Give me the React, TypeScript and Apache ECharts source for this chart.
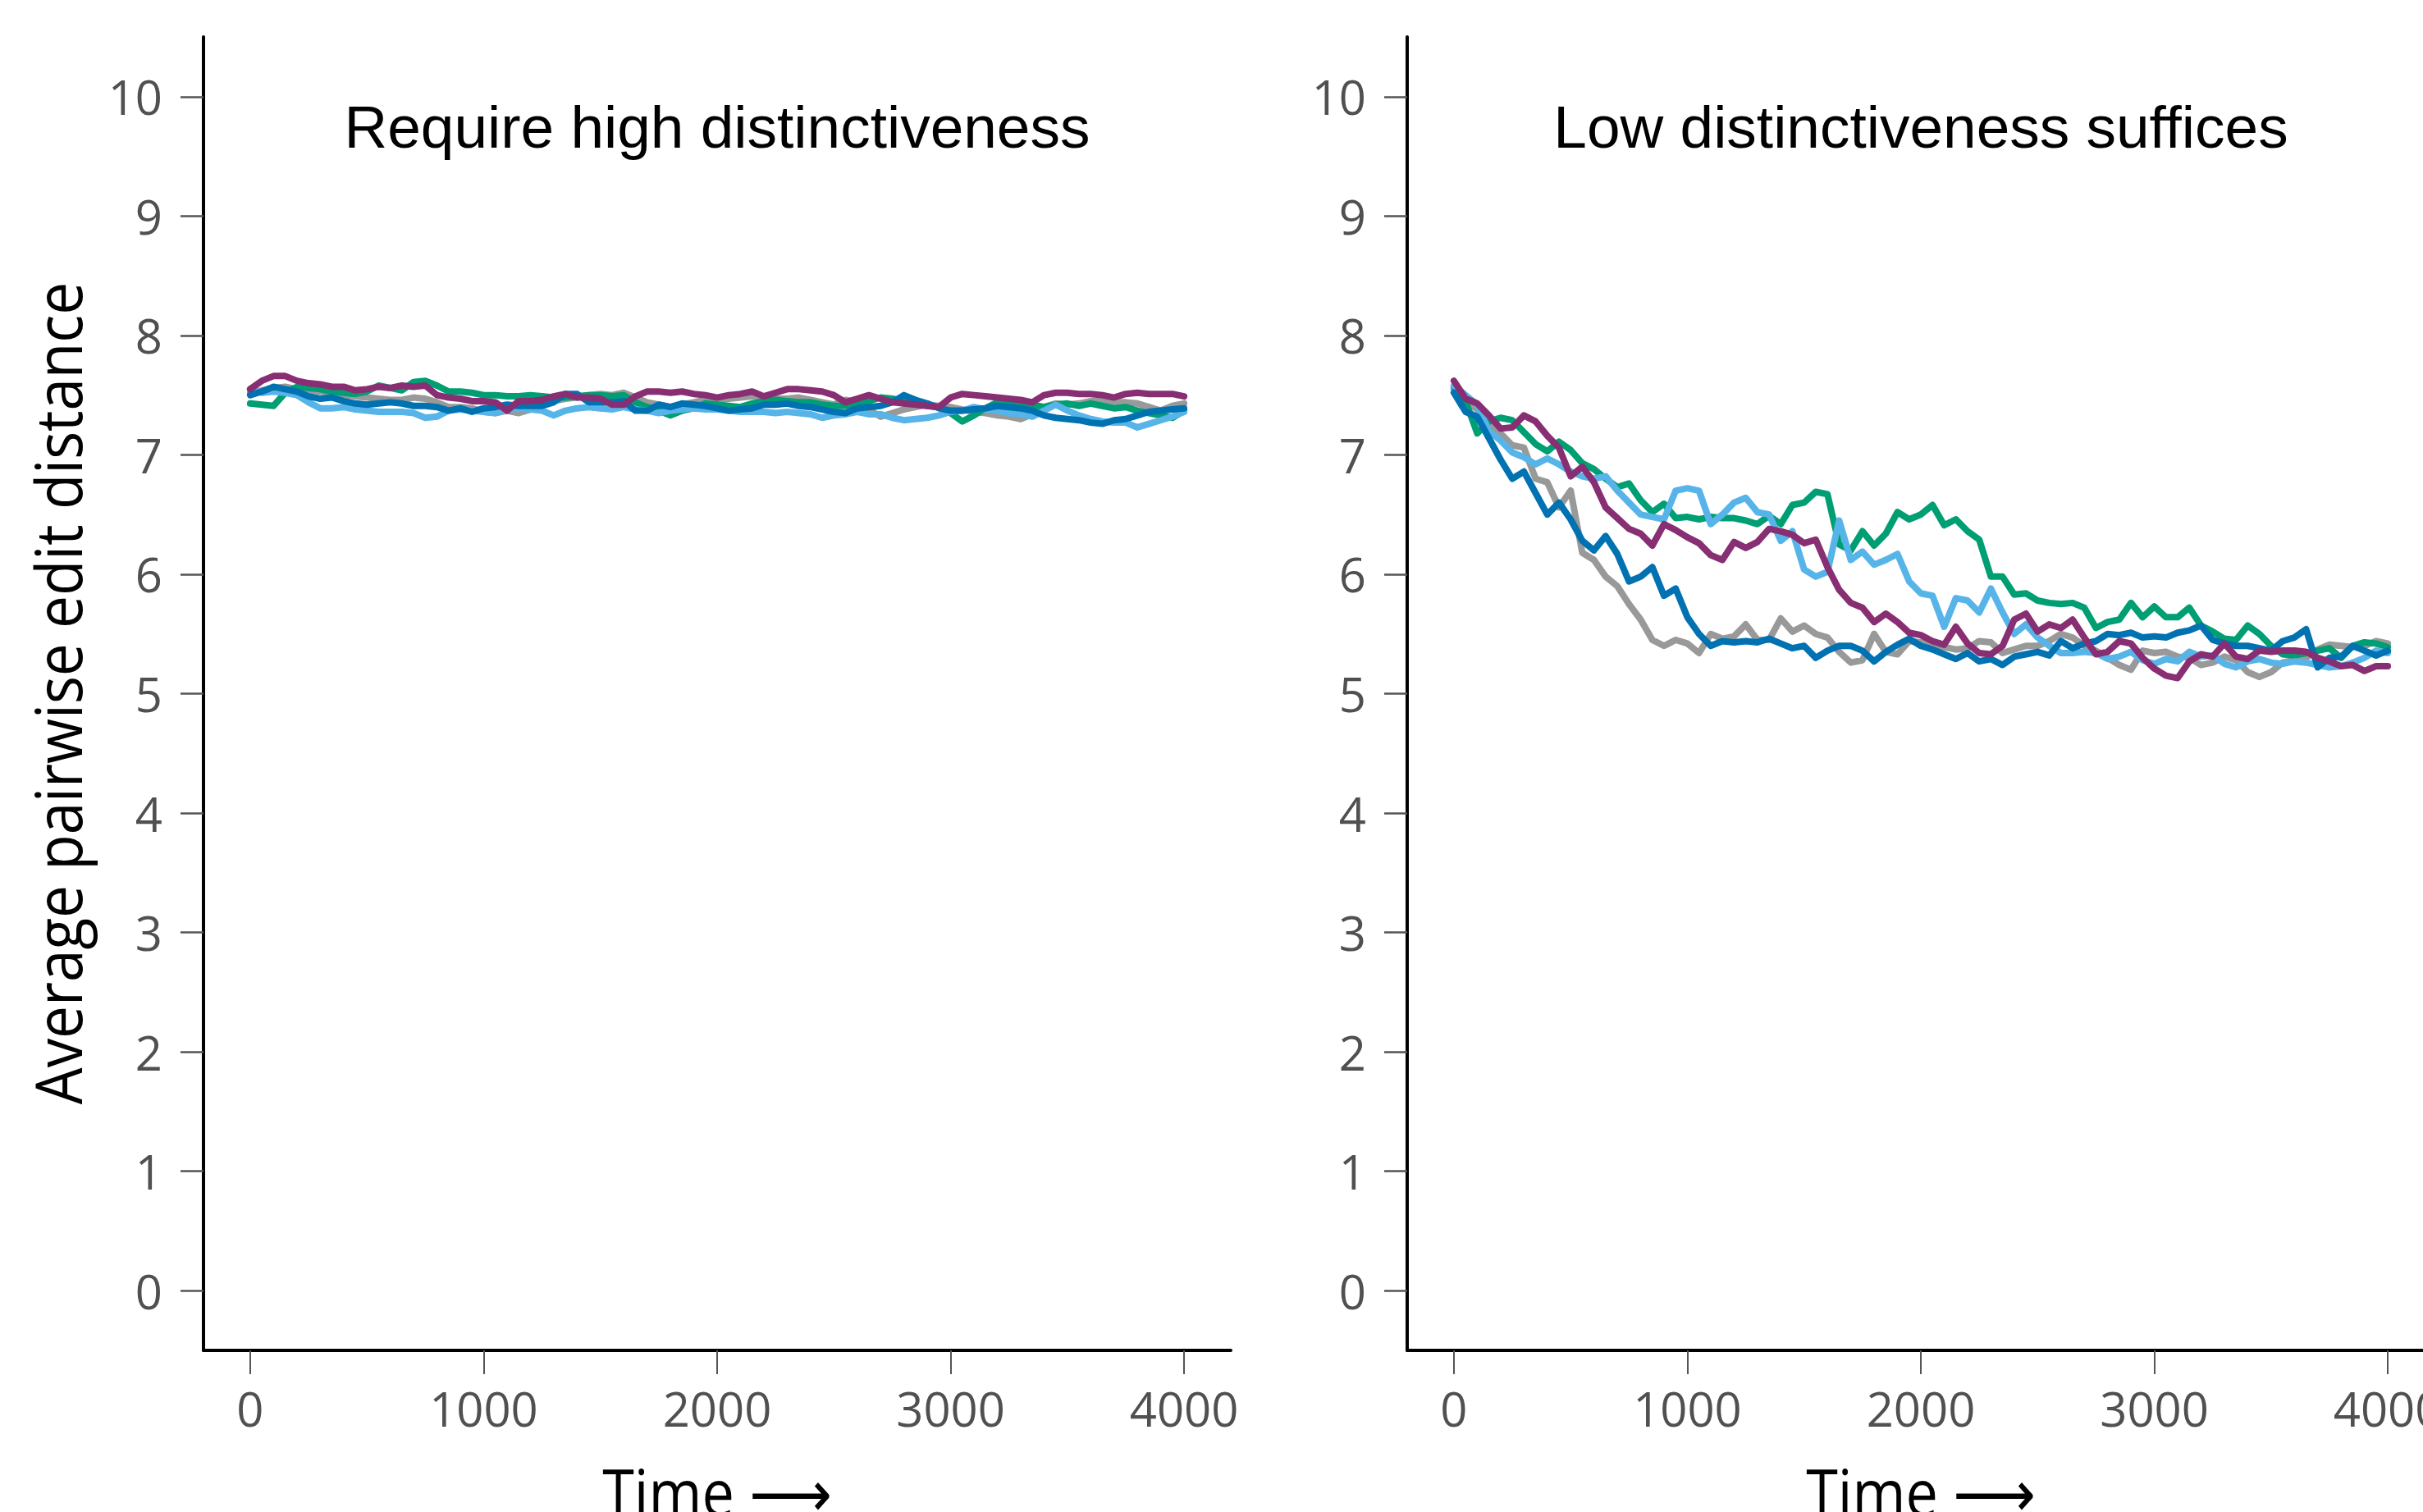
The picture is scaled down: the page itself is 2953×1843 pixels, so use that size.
import React, { useEffect, useRef } from "react";
import * as echarts from "echarts";

// Time steps (x values) shared by every series
const TIMES = [
  0, 50, 100, 150, 200, 250, 300, 350, 400, 450,
  500, 550, 600, 650, 700, 750, 800, 850, 900, 950,
  1000, 1050, 1100, 1150, 1200, 1250, 1300, 1350, 1400, 1450,
  1500, 1550, 1600, 1650, 1700, 1750, 1800, 1850, 1900, 1950,
  2000, 2050, 2100, 2150, 2200, 2250, 2300, 2350, 2400, 2450,
  2500, 2550, 2600, 2650, 2700, 2750, 2800, 2850, 2900, 2950,
  3000, 3050, 3100, 3150, 3200, 3250, 3300, 3350, 3400, 3450,
  3500, 3550, 3600, 3650, 3700, 3750, 3800, 3850, 3900, 3950,
  4000,
];

const X_TICKS = [0, 1000, 2000, 3000, 4000];
const Y_TICKS = [0, 1, 2, 3, 4, 5, 6, 7, 8, 9, 10];

const TITLE_LEFT = "Require high distinctiveness";
const TITLE_RIGHT = "Low distinctiveness suffices";
const Y_NAME = "Average pairwise edit distance";
const X_NAME = "Time \u27F6";

// ---- Left panel: "Require high distinctiveness" ----
const L_GRAY = [
  7.52, 7.54, 7.56, 7.57, 7.55, 7.54, 7.53, 7.52, 7.50, 7.49,
  7.48, 7.47, 7.46, 7.46, 7.48, 7.47, 7.44, 7.40, 7.40, 7.39,
  7.36, 7.35, 7.37, 7.35, 7.38, 7.42, 7.45, 7.47, 7.48, 7.50,
  7.51, 7.50, 7.52, 7.48, 7.44, 7.42, 7.40, 7.42, 7.44, 7.46,
  7.46, 7.47, 7.48, 7.49, 7.48, 7.47, 7.47, 7.48, 7.46, 7.44,
  7.42, 7.46, 7.44, 7.38, 7.32, 7.35, 7.38, 7.40, 7.42, 7.41,
  7.40, 7.38, 7.36, 7.35, 7.33, 7.32, 7.30, 7.34, 7.40, 7.43,
  7.42, 7.43, 7.45, 7.46, 7.44, 7.44, 7.43, 7.40, 7.37, 7.41,
  7.43,
];
const L_GREEN = [
  7.43, 7.42, 7.41, 7.52, 7.57, 7.56, 7.55, 7.53, 7.52, 7.51,
  7.53, 7.58, 7.56, 7.54, 7.61, 7.62, 7.58, 7.53, 7.53, 7.52,
  7.50, 7.50, 7.49, 7.49, 7.50, 7.49, 7.48, 7.48, 7.49, 7.50,
  7.50, 7.49, 7.50, 7.44, 7.40, 7.37, 7.33, 7.37, 7.39, 7.43,
  7.42, 7.41, 7.40, 7.43, 7.45, 7.46, 7.45, 7.44, 7.44, 7.42,
  7.41, 7.41, 7.43, 7.45, 7.48, 7.47, 7.45, 7.43, 7.41, 7.40,
  7.35, 7.28, 7.33, 7.39, 7.44, 7.45, 7.44, 7.42, 7.40, 7.42,
  7.43, 7.41, 7.43, 7.41, 7.39, 7.40, 7.37, 7.35, 7.33, 7.31,
  7.37,
];
const L_SKY = [
  7.55, 7.52, 7.53, 7.52, 7.50, 7.44, 7.39, 7.39, 7.40, 7.38,
  7.37, 7.36, 7.36, 7.36, 7.35, 7.31, 7.32, 7.37, 7.38, 7.37,
  7.36, 7.35, 7.38, 7.39, 7.38, 7.37, 7.33, 7.37, 7.39, 7.40,
  7.39, 7.38, 7.40, 7.38, 7.37, 7.35, 7.37, 7.38, 7.39, 7.38,
  7.38, 7.37, 7.36, 7.36, 7.36, 7.35, 7.36, 7.35, 7.34, 7.31,
  7.33, 7.34, 7.36, 7.34, 7.34, 7.31, 7.29, 7.30, 7.31, 7.33,
  7.36, 7.37, 7.40, 7.38, 7.37, 7.35, 7.34, 7.32, 7.37, 7.42,
  7.37, 7.33, 7.30, 7.28, 7.27, 7.27, 7.23, 7.26, 7.29, 7.32,
  7.36,
];
const L_BLUE = [
  7.50, 7.53, 7.57, 7.55, 7.53, 7.49, 7.47, 7.48, 7.45, 7.43,
  7.42, 7.43, 7.44, 7.43, 7.41, 7.41, 7.40, 7.37, 7.39, 7.36,
  7.39, 7.40, 7.42, 7.41, 7.41, 7.41, 7.44, 7.51, 7.51, 7.44,
  7.44, 7.44, 7.45, 7.37, 7.37, 7.42, 7.40, 7.43, 7.42, 7.41,
  7.39, 7.37, 7.38, 7.39, 7.42, 7.42, 7.43, 7.41, 7.40, 7.38,
  7.36, 7.35, 7.39, 7.40, 7.41, 7.44, 7.50, 7.46, 7.43, 7.39,
  7.37, 7.37, 7.38, 7.39, 7.41, 7.40, 7.39, 7.37, 7.33, 7.31,
  7.30, 7.29, 7.27, 7.26, 7.29, 7.30, 7.33, 7.36, 7.37, 7.38,
  7.39,
];
const L_PURPLE = [
  7.55, 7.62, 7.66, 7.66, 7.62, 7.60, 7.59, 7.57, 7.57, 7.54,
  7.55, 7.57, 7.56, 7.58, 7.57, 7.58, 7.50, 7.48, 7.47, 7.45,
  7.45, 7.44, 7.37, 7.45, 7.45, 7.46, 7.49, 7.51, 7.48, 7.48,
  7.47, 7.42, 7.42, 7.49, 7.53, 7.53, 7.52, 7.53, 7.51, 7.50,
  7.48, 7.50, 7.51, 7.53, 7.49, 7.52, 7.55, 7.55, 7.54, 7.53,
  7.50, 7.44, 7.47, 7.50, 7.47, 7.44, 7.43, 7.42, 7.41, 7.40,
  7.48, 7.51, 7.50, 7.49, 7.48, 7.47, 7.46, 7.44, 7.50, 7.52,
  7.52, 7.51, 7.51, 7.50, 7.48, 7.51, 7.52, 7.51, 7.51, 7.51,
  7.49,
];

// ---- Right panel: "Low distinctiveness suffices" ----
const R_GRAY = [
  7.55, 7.45, 7.38, 7.25, 7.18, 7.08, 7.06, 6.80, 6.77, 6.56,
  6.70, 6.18, 6.12, 5.98, 5.90, 5.75, 5.62, 5.45, 5.40, 5.45,
  5.42, 5.34, 5.50, 5.46, 5.48, 5.58, 5.45, 5.45, 5.63, 5.52,
  5.57, 5.50, 5.47, 5.35, 5.26, 5.28, 5.50, 5.35, 5.33, 5.44,
  5.43, 5.41, 5.39, 5.37, 5.38, 5.44, 5.43, 5.34, 5.37, 5.40,
  5.40, 5.44, 5.50, 5.47, 5.40, 5.36, 5.30, 5.24, 5.20, 5.36,
  5.34, 5.35, 5.31, 5.30, 5.24, 5.26, 5.31, 5.28, 5.18, 5.14,
  5.18, 5.26, 5.28, 5.30, 5.37, 5.41, 5.40, 5.39, 5.40, 5.44,
  5.42,
];
const R_GREEN = [
  7.57, 7.45, 7.18, 7.28, 7.31, 7.29, 7.19, 7.09, 7.03, 7.11,
  7.04, 6.93, 6.88, 6.80, 6.73, 6.76, 6.62, 6.52, 6.59, 6.47,
  6.48, 6.46, 6.48, 6.47, 6.47, 6.45, 6.42, 6.49, 6.42, 6.58,
  6.60, 6.69, 6.67, 6.25, 6.20, 6.36, 6.24, 6.34, 6.52, 6.46,
  6.50, 6.58, 6.41, 6.46, 6.36, 6.29, 5.98, 5.98, 5.83, 5.84,
  5.78, 5.76, 5.75, 5.76, 5.72, 5.55, 5.60, 5.62, 5.76, 5.64,
  5.73, 5.64, 5.64, 5.72, 5.57, 5.52, 5.46, 5.45, 5.57, 5.50,
  5.40, 5.33, 5.32, 5.34, 5.36, 5.38, 5.30, 5.40, 5.43, 5.42,
  5.39,
];
const R_SKY = [
  7.58, 7.50, 7.42, 7.20, 7.12, 7.02, 6.98, 6.92, 6.97, 6.92,
  6.86, 6.82, 6.80, 6.82, 6.70, 6.60, 6.50, 6.48, 6.46, 6.70,
  6.72, 6.70, 6.42, 6.50, 6.60, 6.64, 6.52, 6.50, 6.28, 6.36,
  6.04, 5.98, 6.02, 6.45, 6.12, 6.19, 6.08, 6.12, 6.17, 5.94,
  5.84, 5.82, 5.56, 5.80, 5.78, 5.68, 5.88, 5.68, 5.50, 5.58,
  5.47, 5.40, 5.34, 5.34, 5.35, 5.34, 5.29, 5.31, 5.35, 5.28,
  5.25, 5.29, 5.27, 5.35, 5.31, 5.32, 5.25, 5.22, 5.27, 5.29,
  5.26, 5.25, 5.27, 5.26, 5.24, 5.22, 5.23, 5.26, 5.30, 5.36,
  5.34,
];
const R_BLUE = [
  7.52, 7.36, 7.32, 7.14, 6.96, 6.80, 6.86, 6.68, 6.50, 6.60,
  6.46, 6.28, 6.20, 6.32, 6.17, 5.94, 5.98, 6.06, 5.82, 5.88,
  5.64, 5.50, 5.40, 5.44, 5.43, 5.44, 5.43, 5.46, 5.42, 5.38,
  5.40, 5.30, 5.36, 5.40, 5.40, 5.36, 5.27, 5.35, 5.41, 5.46,
  5.40, 5.37, 5.33, 5.29, 5.34, 5.27, 5.29, 5.24, 5.31, 5.33,
  5.35, 5.32, 5.44, 5.38, 5.42, 5.44, 5.50, 5.49, 5.51, 5.47,
  5.48, 5.47, 5.51, 5.53, 5.57, 5.45, 5.42, 5.40, 5.40, 5.38,
  5.36, 5.44, 5.47, 5.54, 5.22, 5.30, 5.31, 5.40, 5.36, 5.32,
  5.36,
];
const R_PURPLE = [
  7.62, 7.47, 7.43, 7.33, 7.22, 7.23, 7.33, 7.28, 7.16, 7.06,
  6.82, 6.90, 6.77, 6.56, 6.47, 6.38, 6.34, 6.24, 6.42, 6.37,
  6.31, 6.26, 6.16, 6.12, 6.27, 6.22, 6.27, 6.38, 6.36, 6.33,
  6.26, 6.29, 6.06, 5.87, 5.76, 5.72, 5.60, 5.67, 5.60, 5.51,
  5.49, 5.44, 5.41, 5.56, 5.42, 5.34, 5.33, 5.40, 5.62, 5.67,
  5.52, 5.58, 5.55, 5.62, 5.47, 5.33, 5.35, 5.44, 5.42, 5.30,
  5.21, 5.15, 5.13, 5.27, 5.33, 5.31, 5.42, 5.31, 5.29, 5.36,
  5.35, 5.36, 5.36, 5.35, 5.30, 5.27, 5.23, 5.24, 5.19, 5.23,
  5.23,
];

const COLORS = {
  gray: "#999999",
  green: "#009E73",
  sky: "#56B4E9",
  blue: "#0072B2",
  purple: "#882E72",
};

const PANELS = [
  { title: TITLE_LEFT, left: 248, series: [L_GRAY, L_GREEN, L_SKY, L_BLUE, L_PURPLE] },
  { title: TITLE_RIGHT, left: 1715, series: [R_GRAY, R_GREEN, R_SKY, R_BLUE, R_PURPLE] },
];
const SERIES_COLORS = [COLORS.gray, COLORS.green, COLORS.sky, COLORS.blue, COLORS.purple];

const GRID_TOP = 45;
const GRID_W = 1252;
const GRID_H = 1601;
const TICK_FONT = '"Open Sans", "DejaVu Sans", sans-serif';
const NAME_FONT = '"Open Sans", "DejaVu Sans", sans-serif';

function pairs(vals: number[]) {
  return TIMES.map((t, i) => [t, vals[i]]);
}

export default function App() {
  const ref = useRef<HTMLDivElement>(null);

  useEffect(() => {
    if (!ref.current) return;
    const chart = echarts.init(ref.current, null, { renderer: "svg" });

    const grid = PANELS.map((p) => ({
      left: p.left,
      top: GRID_TOP,
      width: GRID_W,
      height: GRID_H,
      outerBoundsMode: "none",
      containLabel: false,
    }));

    const xAxis = PANELS.map((_, i) => ({
      type: "value",
      gridIndex: i,
      min: -200,
      max: 4200,
      splitLine: { show: false },
      axisLine: { show: true, onZero: false, lineStyle: { color: "#000000", width: 4 } },
      axisTick: {
        show: true,
        length: 29,
        inside: false,
        customValues: X_TICKS,
        lineStyle: { color: "#555555", width: 2 },
      },
      axisLabel: {
        show: true,
        customValues: X_TICKS,
        formatter: (v: number) => String(v),
        margin: 41,
        fontSize: 58,
        fontFamily: TICK_FONT,
        color: "#505050",
      },
    }));

    const yAxis = PANELS.map((_, i) => ({
      type: "value",
      gridIndex: i,
      min: -0.5,
      max: 10.5,
      splitLine: { show: false },
      axisLine: { show: true, onZero: false, lineStyle: { color: "#000000", width: 4 } },
      axisTick: {
        show: true,
        length: 28,
        inside: false,
        customValues: Y_TICKS,
        lineStyle: { color: "#555555", width: 2.5 },
      },
      axisLabel: {
        show: true,
        customValues: Y_TICKS,
        formatter: (v: number) => String(v),
        margin: 50,
        fontSize: 58,
        fontFamily: TICK_FONT,
        color: "#505050",
      },
    }));

    const series: any[] = [];
    PANELS.forEach((p, gi) => {
      p.series.forEach((vals, si) => {
        series.push({
          type: "line",
          xAxisIndex: gi,
          yAxisIndex: gi,
          data: pairs(vals),
          showSymbol: false,
          symbol: "none",
          smooth: false,
          lineStyle: { color: SERIES_COLORS[si], width: 8, cap: "round", join: "round" },
          itemStyle: { color: SERIES_COLORS[si] },
          z: 2 + si,
          silent: true,
        });
      });
    });

    const graphic: any[] = [];
    PANELS.forEach((p) => {
      const cx = p.left + GRID_W / 2;
      graphic.push({
        type: "text",
        x: cx,
        y: 154,
        style: {
          text: p.title,
          fontSize: 73,
          fontFamily: '"Liberation Sans", Arial, sans-serif',
          fill: "#000000",
          textAlign: "center",
          textVerticalAlign: "middle",
        },
      });
      graphic.push({
        type: "text",
        x: cx,
        y: 1818,
        scaleX: 0.9,
        style: {
          text: X_NAME,
          fontSize: 78,
          fontFamily: NAME_FONT,
          fill: "#000000",
          textAlign: "center",
          textVerticalAlign: "middle",
        },
      });
    });
    graphic.push({
      type: "text",
      x: 70,
      y: 845,
      rotation: Math.PI / 2,
      scaleX: 0.91,
      style: {
        text: Y_NAME,
        fontSize: 78,
        fontFamily: NAME_FONT,
        fill: "#000000",
        textAlign: "center",
        textVerticalAlign: "middle",
      },
    });

    chart.setOption({
      animation: false,
      backgroundColor: "#ffffff",
      grid,
      xAxis,
      yAxis,
      series,
      graphic,
    });

    return () => {
      chart.dispose();
    };
  }, []);

  return (
    <div
      ref={ref}
      style={{ position: "fixed", left: 0, top: 0, width: 2953, height: 1843, background: "#ffffff" }}
    />
  );
}
